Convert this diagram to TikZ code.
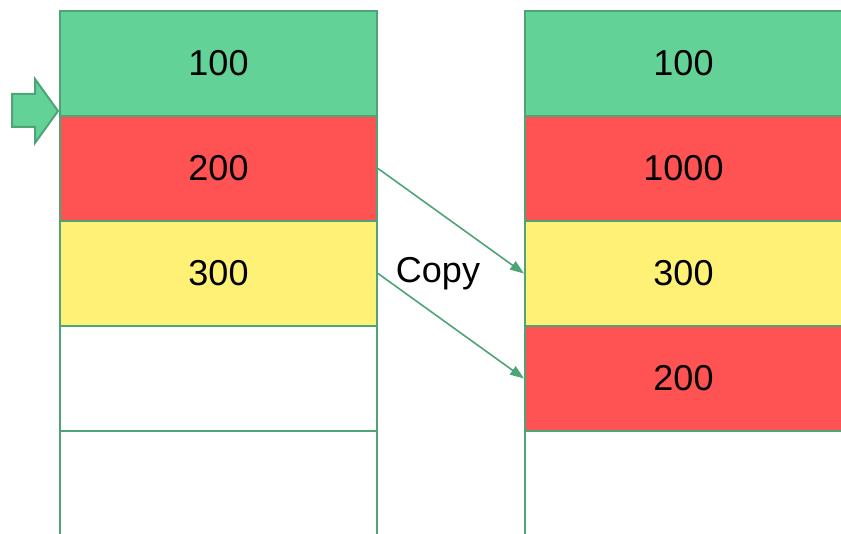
\documentclass[tikz,border=0pt]{standalone}
\usepackage{fontspec}
\setmainfont{Liberation Sans}
\usetikzlibrary{arrows.meta}
\definecolor{cellgreen}{HTML}{63D297}
\definecolor{cellred}{HTML}{FF5252}
\definecolor{cellyellow}{HTML}{FFF176}
\definecolor{edgegreen}{HTML}{4FA477}
\begin{document}
\begin{tikzpicture}[x=1pt,y=-1pt,
  cell/.style={draw=edgegreen, line width=2pt, minimum width=317pt,
    minimum height=105pt, inner sep=0pt, anchor=north west,
    font=\fontsize{36}{40}\selectfont},
  copyline/.style={draw=edgegreen, line width=1.6pt,
    -{Triangle[length=14pt,width=10pt]}},
  lbl/.style={font=\fontsize{36}{40}\selectfont}]
\useasboundingbox (0,0) rectangle (841,534);
\clip (0,0) rectangle (841,534);
% source stack
\node[cell, fill=cellgreen]  (L1) at (59,10)  {100};
\node[cell, fill=cellred]    (L2) at (59,115) {200};
\node[cell, fill=cellyellow] (L3) at (59,220) {300};
\node[cell, fill=white]      (L4) at (59,325) {};
\node[cell, fill=white]      (L5) at (59,430) {};
% destination stack
\node[cell, fill=cellgreen]  (R1) at (524,10)  {100};
\node[cell, fill=cellred]    (R2) at (524,115) {1000};
\node[cell, fill=cellyellow] (R3) at (524,220) {300};
\node[cell, fill=cellred]    (R4) at (524,325) {200};
\node[cell, fill=white]      (R5) at (524,430) {};
% pointer arrow
\draw[edgegreen, fill=cellgreen, line width=2pt, line join=miter]
  (12,94) -- (35,94) -- (35,79) -- (58,111) -- (35,143) -- (35,127) -- (12,127) -- cycle;
% copy connectors
\draw[copyline] (L2.east) -- (R3.west);
\draw[copyline] (L3.east) -- (R4.west);
\node[lbl] (copy) at (438,274) {Copy};
\end{tikzpicture}
\end{document}
